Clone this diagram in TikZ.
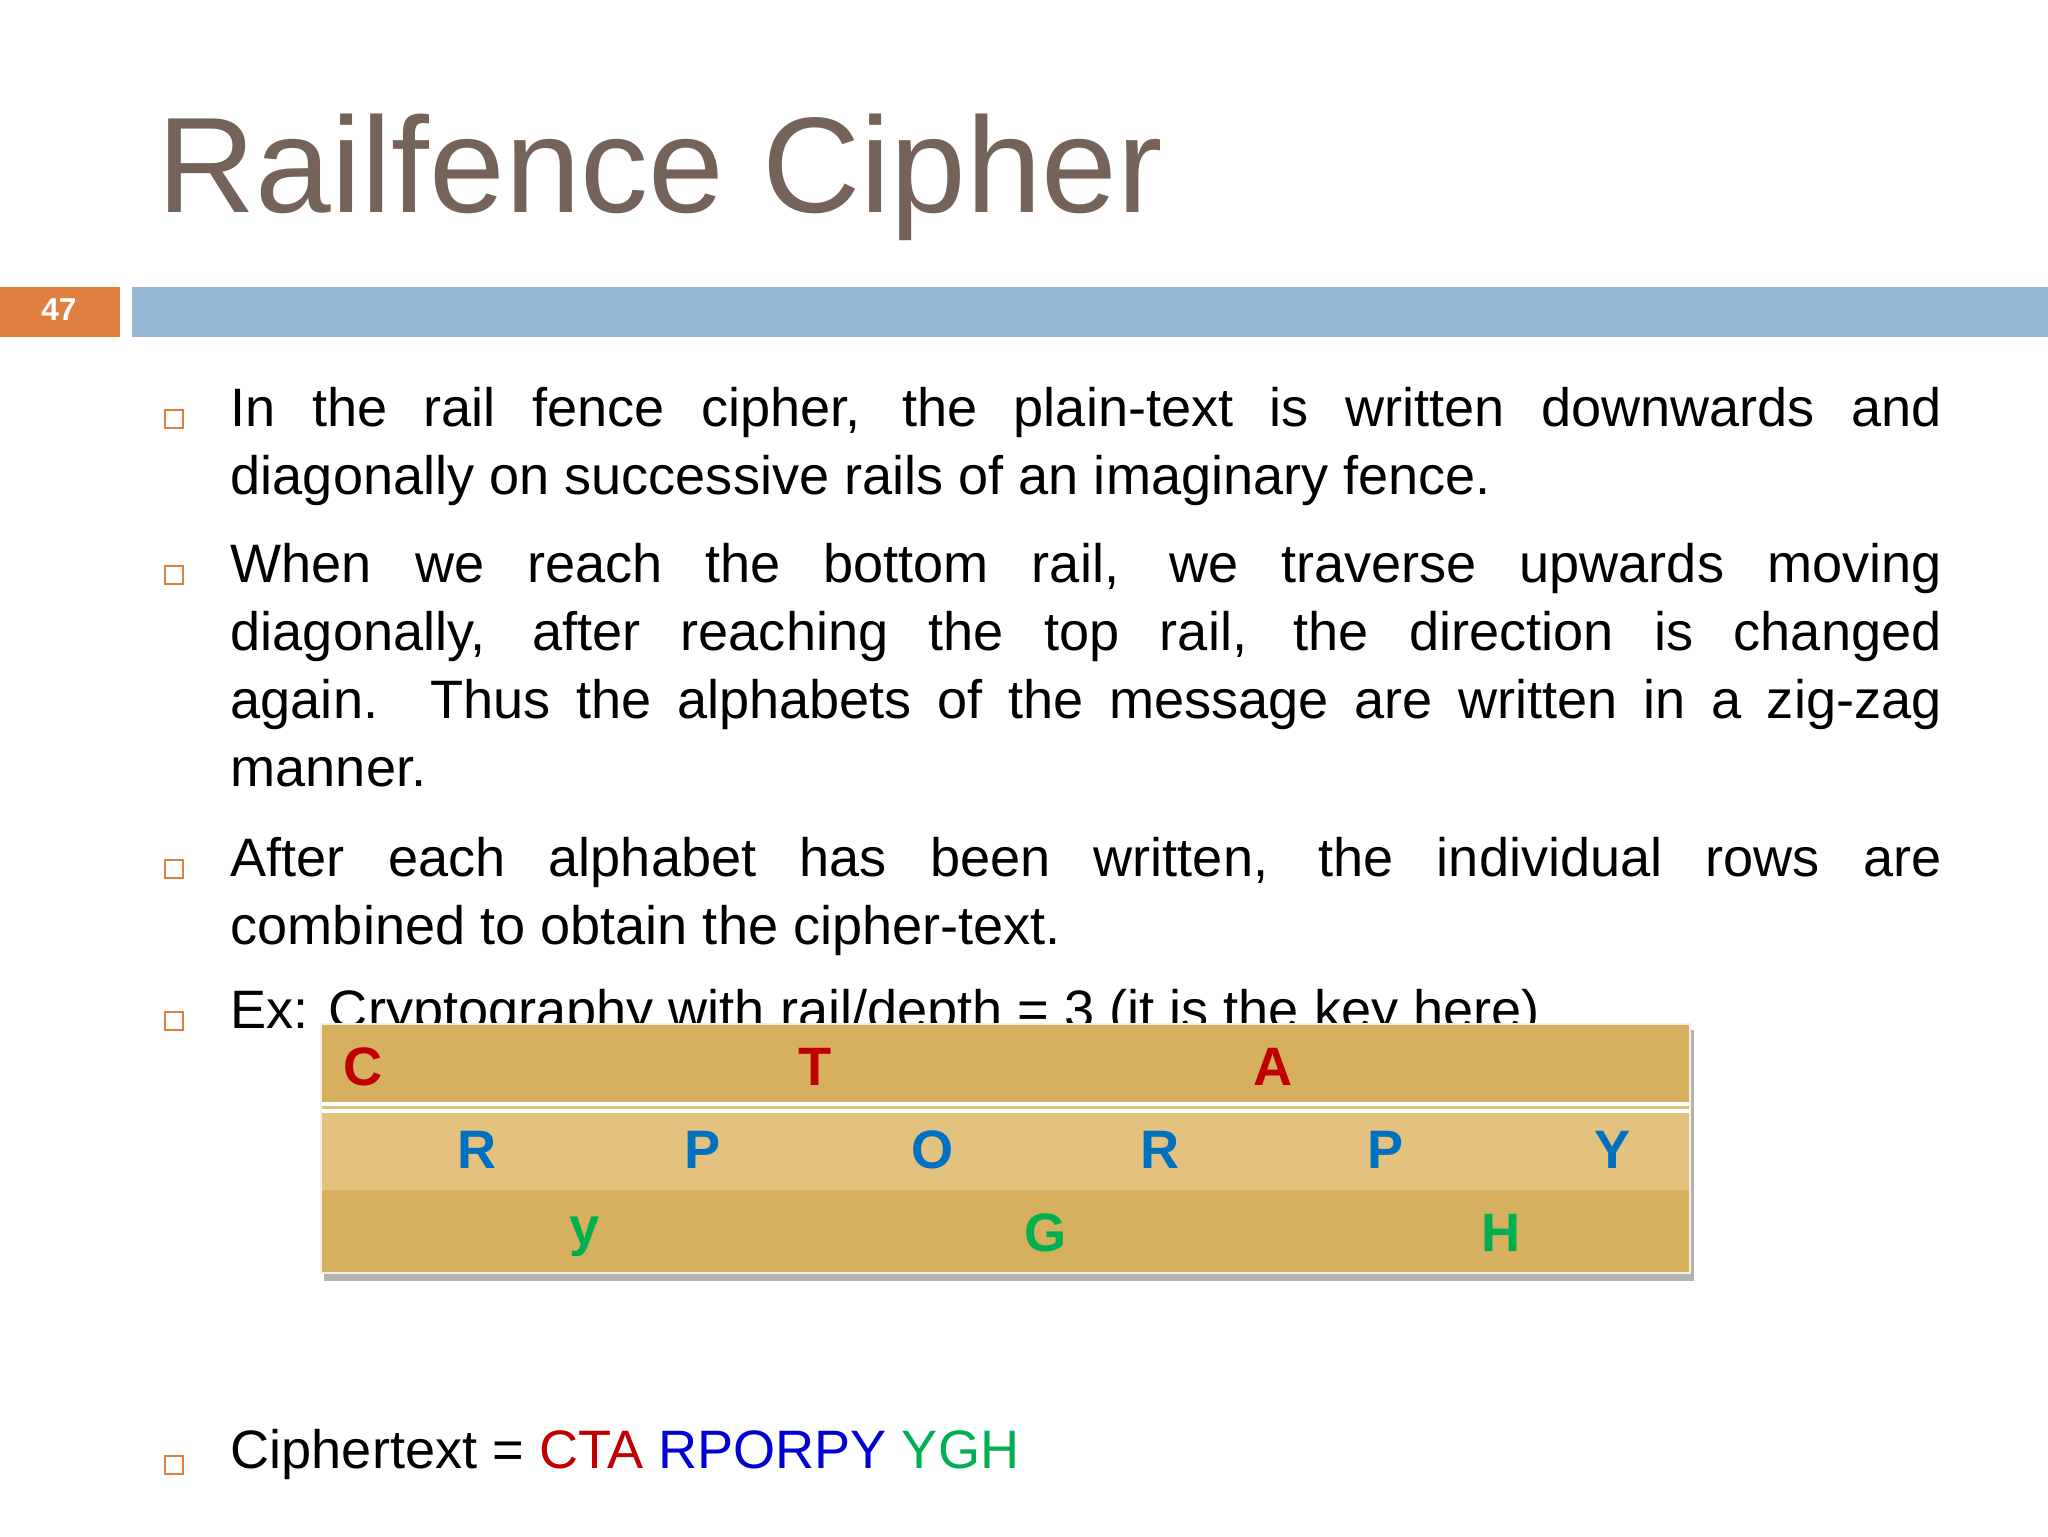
\documentclass[tikz,border=0pt]{standalone}
\usepackage{fontspec}
\setmainfont{Liberation Sans}
\definecolor{titlec}{RGB}{117,99,89}
\definecolor{orng}{RGB}{224,128,64}
\definecolor{barblue}{RGB}{148,182,212}
\definecolor{gold}{RGB}{214,176,94}
\definecolor{goldl}{RGB}{226,194,126}
\definecolor{lred}{RGB}{192,0,0}
\definecolor{lblue}{RGB}{0,112,192}
\definecolor{lgreen}{RGB}{0,176,80}
\definecolor{cblue}{RGB}{0,0,210}
\tikzset{
 para/.style={anchor=north west,inner sep=0,text width=171.1mm,align=justify,font=\fontsize{15.4}{19.3}\selectfont},
 bul/.style={draw=orng,line width=0.5pt,fill=white},
 letter/.style={font=\fontsize{15.4}{18}\selectfont\bfseries,inner sep=0}
}
\begin{document}
\begin{tikzpicture}[x=0.1mm,y=-0.1mm]
\useasboundingbox (0,0) rectangle (2048,1536);
\fill[white] (0,0) rectangle (2048,1536);
\node[anchor=base west,inner sep=0,text=titlec,font=\fontsize{38.7}{40}\selectfont] (title) at (157,212) {Railfence Cipher};
\fill[orng] (0,287) rectangle (120,337);
\fill[barblue] (132,287) rectangle (2048,337);
\node[text=white,font=\fontsize{9}{10}\selectfont\bfseries] (num) at (59,310) {47};
\foreach \y in {410,566,860,1012,1456}{\draw[bul] (165,\y) rectangle (183,\y+18);}
\node[para] (p1) at (230,387) {In the rail fence cipher, the plain-text is written downwards and\linebreak diagonally on successive rails of an imaginary fence.};
\node[para] (p2) at (230,543) {When we reach the bottom rail, we traverse upwards moving\linebreak diagonally, after reaching the top rail, the direction is changed\linebreak again. Thus the alphabets of the message are written in a zig-zag\linebreak manner.};
\node[para] (p3) at (230,837) {After each alphabet has been written, the individual rows are\linebreak combined to obtain the cipher-text.};
\node[anchor=base west,inner sep=0,font=\fontsize{15.4}{19.3}\selectfont] (ex) at (230,1028) {Ex: Cryptography with rail/depth = 3 (it is the key here)};
% table
\fill[black!30] (324,1030) rectangle (1694,1281);
\fill[gold] (321,1024) rectangle (1690,1104);
\fill[white] (321,1102) rectangle (1690,1113);
\fill[gold!80] (321,1105.5) rectangle (1690,1108.5);
\fill[goldl] (321,1113) rectangle (1690,1190);
\fill[gold] (321,1190) rectangle (1690,1273);
\draw[white!80!gold,line width=0.6pt] (321,1024) rectangle (1690,1273);
\node[letter,text=lred] (c1) at (363,1067) {C};
\node[letter,text=lred] (c2) at (815,1067) {T};
\node[letter,text=lred] (c3) at (1273,1067) {A};
\node[letter,text=lblue] (r1) at (477,1150) {R};
\node[letter,text=lblue] (r2) at (703,1150) {P};
\node[letter,text=lblue] (r3) at (933,1150) {O};
\node[letter,text=lblue] (r4) at (1160,1150) {R};
\node[letter,text=lblue] (r5) at (1386,1150) {P};
\node[letter,text=lblue] (r6) at (1613,1150) {Y};
\node[letter,text=lgreen] (g1) at (585,1237) {y};
\node[letter,text=lgreen] (g2) at (1046,1233) {G};
\node[letter,text=lgreen] (g3) at (1501,1233) {H};
\node[anchor=base west,inner sep=0,font=\fontsize{15.4}{19.3}\selectfont] (ct) at (230,1468) {Ciphertext = \textcolor{lred}{CTA} \textcolor{cblue}{RPORPY} \textcolor{lgreen}{YGH}};
\end{tikzpicture}
\end{document}
